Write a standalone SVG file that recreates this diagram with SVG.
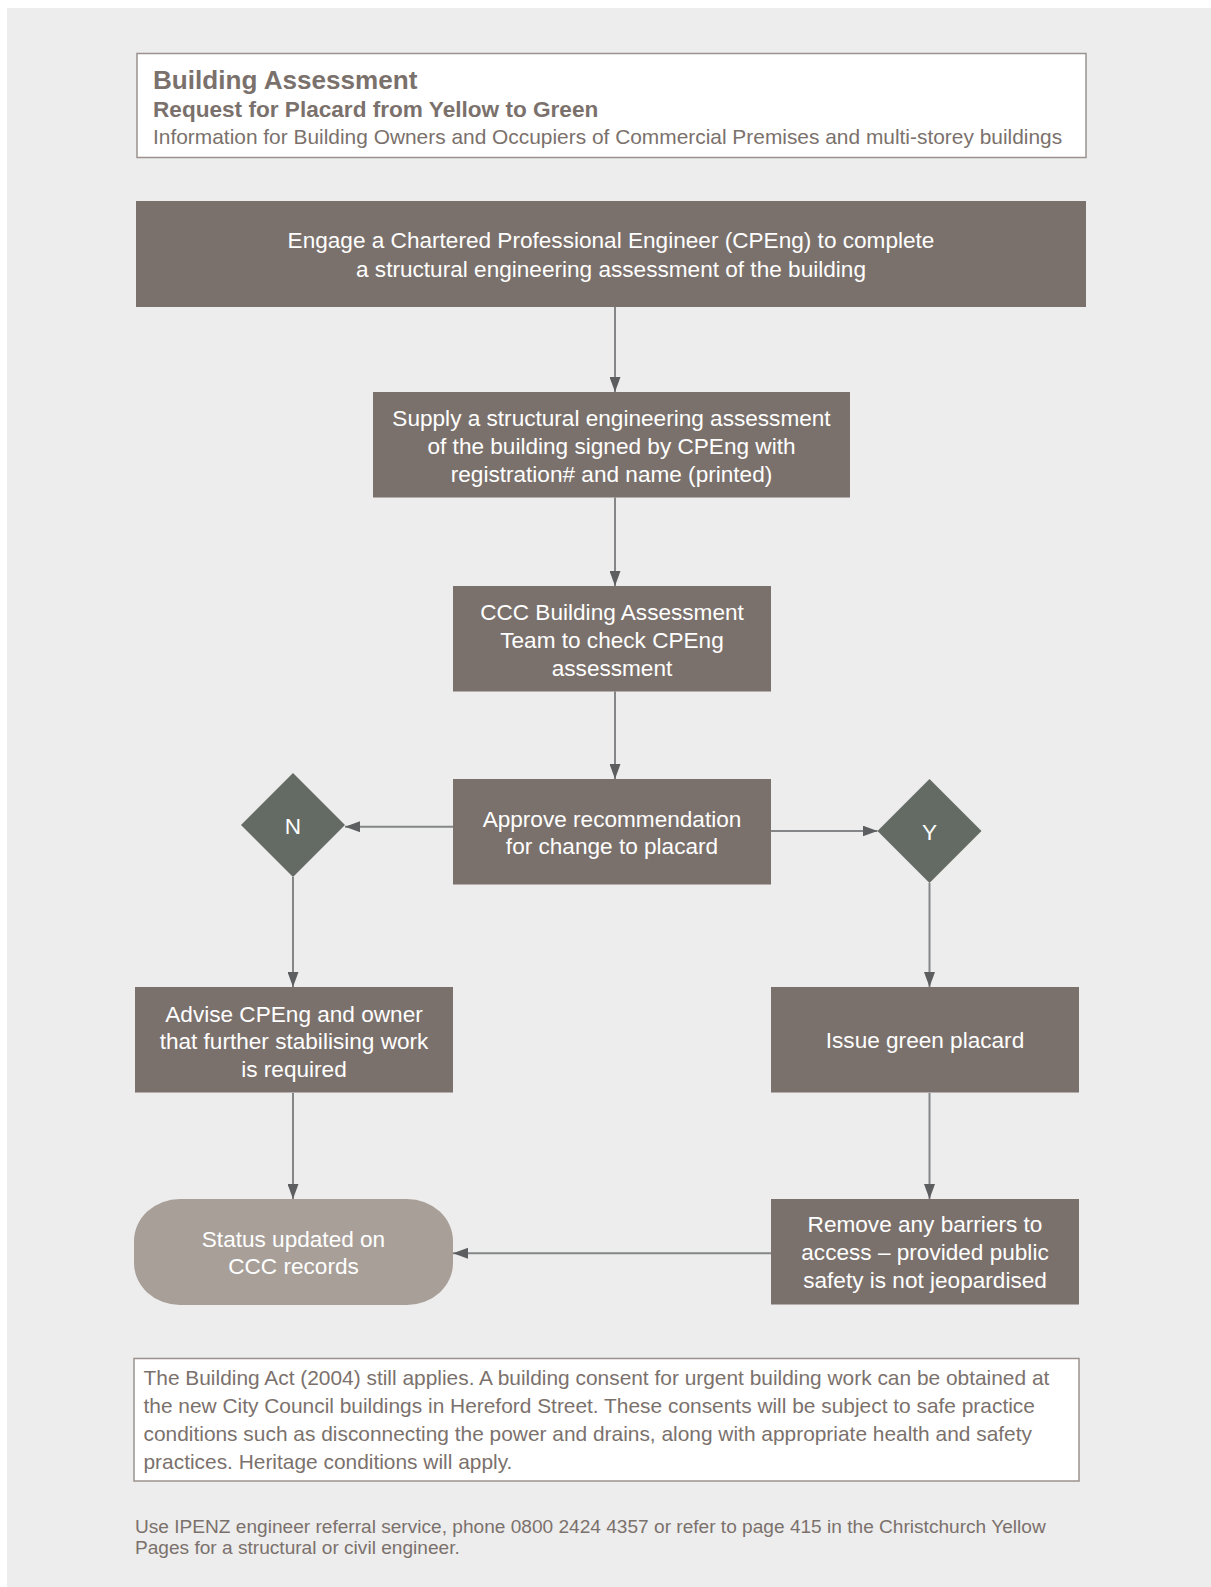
<svg xmlns="http://www.w3.org/2000/svg" width="1211" height="1587" viewBox="0 0 1211 1587">
  <style>
    .page { fill: #ededed; }
    .panel { fill: #ffffff; stroke: #9b928d; stroke-width: 1.5; }
    .step { fill: #7b716c; }
    .decision { fill: #646b64; }
    .terminal { fill: #a89f99; }
    .hdr { font-family: "Liberation Sans", Arial, Helvetica, sans-serif; fill: #7b716c; }
    .lbl { font-family: "Liberation Sans", Arial, Helvetica, sans-serif; fill: #ffffff; font-size: 22.6px; text-anchor: middle; }
    .note { font-family: "Liberation Sans", Arial, Helvetica, sans-serif; fill: #7b716c; font-size: 20.9px; }
    .foot { font-family: "Liberation Sans", Arial, Helvetica, sans-serif; fill: #7b716c; font-size: 19.1px; }
    .flow { fill: none; stroke: #858688; stroke-width: 2; marker-end: url(#head); }
  </style>
  <defs>
    <marker id="head" viewBox="0 0 15 11" refX="15" refY="5.5" markerWidth="15" markerHeight="11" markerUnits="userSpaceOnUse" orient="auto">
      <path d="M0,0 L15,5.5 L0,11 Z" fill="#5d5e60"/>
    </marker>
  </defs>

  <rect x="0" y="0" width="1211" height="1587" fill="#ffffff"/>
  <rect class="page" x="7" y="8" width="1204" height="1579"/>

  <!-- heading panel -->
  <g id="header">
    <rect class="panel" x="137" y="53.5" width="949" height="104"/>
    <text class="hdr" x="153" y="88.5" font-size="26.1" font-weight="bold">Building Assessment</text>
    <text class="hdr" x="153" y="116.5" font-size="22.6" font-weight="bold">Request for Placard from Yellow to Green</text>
    <text class="hdr" x="153" y="144" font-size="20.9">Information for Building Owners and Occupiers of Commercial Premises and multi-storey buildings</text>
  </g>

  <!-- connectors -->
  <g id="connectors">
    <path class="flow" d="M615 307 V392"/>
    <path class="flow" d="M615 497.5 V586"/>
    <path class="flow" d="M615 691.5 V779"/>
    <path class="flow" d="M453 826.7 H345"/>
    <path class="flow" d="M771 831 H877.5"/>
    <path class="flow" d="M293 877 V987"/>
    <path class="flow" d="M929.5 883 V987"/>
    <path class="flow" d="M293 1093 V1199"/>
    <path class="flow" d="M929.5 1093 V1199"/>
    <path class="flow" d="M771 1253.3 H453"/>
  </g>

  <g id="engage">
    <rect class="step" x="136" y="201" width="950" height="106"/>
    <text class="lbl" x="611" y="248.3">Engage a Chartered Professional Engineer (CPEng) to complete</text>
    <text class="lbl" x="611" y="276.7">a structural engineering assessment of the building</text>
  </g>

  <g id="supply">
    <rect class="step" x="373" y="392" width="477" height="105.5"/>
    <text class="lbl" x="611.5" y="426">Supply a structural engineering assessment</text>
    <text class="lbl" x="611.5" y="454">of the building signed by CPEng with</text>
    <text class="lbl" x="611.5" y="481.7">registration# and name (printed)</text>
  </g>

  <g id="check">
    <rect class="step" x="453" y="586" width="318" height="105.5"/>
    <text class="lbl" x="612" y="620">CCC Building Assessment</text>
    <text class="lbl" x="612" y="648.3">Team to check CPEng</text>
    <text class="lbl" x="612" y="675.7">assessment</text>
  </g>

  <g id="approve">
    <rect class="step" x="453" y="779" width="318" height="105.5"/>
    <text class="lbl" x="612" y="826.7">Approve recommendation</text>
    <text class="lbl" x="612" y="854.3">for change to placard</text>
  </g>

  <g id="decision-no">
    <polygon class="decision" points="293,773 345,825 293,877 241,825"/>
    <text class="lbl" x="293" y="833.5">N</text>
  </g>

  <g id="decision-yes">
    <polygon class="decision" points="929.5,779 981.5,831 929.5,883 877.5,831"/>
    <text class="lbl" x="929.5" y="839.5">Y</text>
  </g>

  <g id="advise">
    <rect class="step" x="135" y="987" width="318" height="105.5"/>
    <text class="lbl" x="294" y="1021.7">Advise CPEng and owner</text>
    <text class="lbl" x="294" y="1048.7">that further stabilising work</text>
    <text class="lbl" x="294" y="1076.7">is required</text>
  </g>

  <g id="issue">
    <rect class="step" x="771" y="987" width="308" height="105.5"/>
    <text class="lbl" x="925" y="1048.3">Issue green placard</text>
  </g>

  <g id="status">
    <rect class="terminal" x="134" y="1199" width="319" height="106" rx="46" ry="42"/>
    <text class="lbl" x="293.5" y="1246.7">Status updated on</text>
    <text class="lbl" x="293.5" y="1274">CCC records</text>
  </g>

  <g id="remove">
    <rect class="step" x="771" y="1199" width="308" height="105.5"/>
    <text class="lbl" x="925" y="1232">Remove any barriers to</text>
    <text class="lbl" x="925" y="1260">access – provided public</text>
    <text class="lbl" x="925" y="1288">safety is not jeopardised</text>
  </g>

  <!-- notice panel -->
  <g id="notice">
    <rect class="panel" x="134" y="1358.5" width="945" height="122.5"/>
    <text class="note" x="143.5" y="1385">The Building Act (2004) still applies. A building consent for urgent building work can be obtained at</text>
    <text class="note" x="143.5" y="1413">the new City Council buildings in Hereford Street. These consents will be subject to safe practice</text>
    <text class="note" x="143.5" y="1440.7">conditions such as disconnecting the power and drains, along with appropriate health and safety</text>
    <text class="note" x="143.5" y="1469">practices. Heritage conditions will apply.</text>
  </g>

  <g id="footer">
    <text class="foot" x="135" y="1532.7">Use IPENZ engineer referral service, phone 0800 2424 4357 or refer to page 415 in the Christchurch Yellow</text>
    <text class="foot" x="135" y="1554">Pages for a structural or civil engineer.</text>
  </g>
</svg>
